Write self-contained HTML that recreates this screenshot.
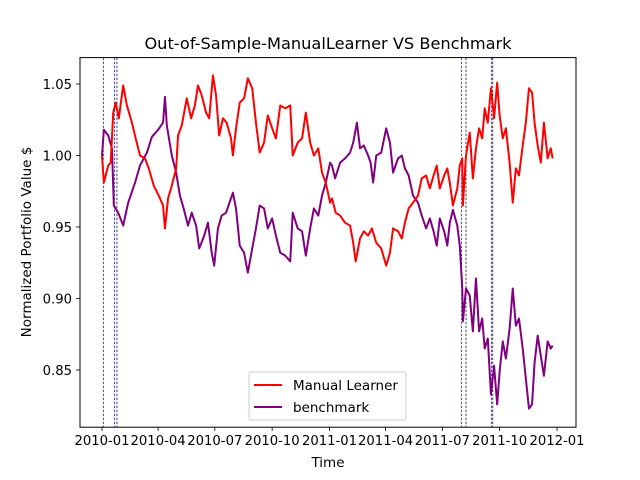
<!DOCTYPE html>
<html><head><meta charset="utf-8"><style>
html,body{margin:0;padding:0;background:#fff;}
svg{display:block;font-family:"DejaVu Sans","Liberation Sans",sans-serif;}
</style></head><body>
<svg id="chart" width="640" height="480" viewBox="0 0 640 480">
<rect x="0" y="0" width="640" height="480" fill="#fff"/>
<text x="328" y="49" font-size="16.2" text-anchor="middle">Out-of-Sample-ManualLearner VS Benchmark</text>
<g id="plot"></g>
<rect x="80" y="57.6" width="496" height="369.6" fill="none" stroke="#000" stroke-width="1"/>
<g id="xaxis"></g>
<g id="yaxis"></g>
<text x="328" y="467" font-size="13.5" text-anchor="middle">Time</text>
<text transform="translate(31,242) rotate(-90)" font-size="13.5" text-anchor="middle">Normalized Portfolio Value $</text>
<g>
<rect x="249" y="372" width="157" height="48" rx="2" fill="#fff" fill-opacity="0.8" stroke="#ccc" stroke-width="1"/>
<line x1="254" y1="385" x2="282" y2="385" stroke="red" stroke-width="2"/>
<text x="293" y="390" font-size="13.5">Manual Learner</text>
<line x1="254" y1="407" x2="282" y2="407" stroke="purple" stroke-width="2"/>
<text x="293" y="412" font-size="13.5">benchmark</text>
</g>
</svg>
<script>
// days since 2010-01-01
const benchDays=[0,3,10,16,19,26,34,42,53,61,72,80,90,98,101,104,112,119,125,131,138,144,151,156,164,170,176,180,186,192,199,210,215,221,228,234,241,247,253,260,266,273,279,286,294,302,306,314,321,327,334,340,347,353,359,366,369,374,382,390,398,403,409,414,420,427,431,435,440,448,456,462,467,475,481,486,492,499,507,513,520,526,532,537,542,549,554,558,563,570,574,578,579,584,590,595,600,605,610,614,619,624,629,634,638,643,648,654,659,664,669,675,680,685,690,694,699,704,709,715,720,723];
const benchVals=[1.0,1.018,1.014,1.005,0.965,0.960,0.951,0.967,0.981,0.993,1.002,1.013,1.018,1.023,1.041,1.021,1.0,0.988,0.972,0.963,0.951,0.960,0.951,0.935,0.944,0.953,0.932,0.923,0.949,0.958,0.960,0.974,0.963,0.937,0.932,0.918,0.935,0.949,0.965,0.963,0.949,0.956,0.944,0.932,0.930,0.926,0.960,0.949,0.947,0.930,0.949,0.963,0.958,0.972,0.981,0.995,0.993,0.984,0.995,0.998,1.002,1.009,1.023,1.005,1.007,1.0,0.995,0.981,1.0,1.002,1.019,1.009,0.988,0.998,1.0,0.991,0.986,0.972,0.967,0.958,0.949,0.956,0.947,0.937,0.956,0.947,0.937,0.953,0.962,0.951,0.937,0.907,0.884,0.907,0.902,0.877,0.914,0.877,0.886,0.865,0.872,0.833,0.853,0.826,0.849,0.870,0.858,0.879,0.907,0.881,0.886,0.865,0.844,0.823,0.826,0.855,0.874,0.860,0.846,0.870,0.865,0.867];
const manualDays=[0,3,10,14,18,22,27,34,40,48,54,61,69,75,83,91,98,101,106,112,119,122,128,136,143,149,154,160,167,172,178,183,188,194,200,207,210,215,221,228,234,241,247,253,260,266,273,279,286,294,302,306,314,321,327,334,340,347,353,359,366,369,375,382,390,398,403,407,414,420,427,433,440,448,456,462,467,475,481,486,492,499,507,513,520,526,532,537,542,549,554,558,563,570,574,578,579,584,590,595,600,605,610,614,619,624,629,634,638,643,648,654,659,664,669,675,680,685,690,694,699,704,709,715,720,723];
const manualVals=[1.0,0.981,0.993,0.995,1.030,1.037,1.026,1.049,1.035,1.023,1.012,1.0,0.998,0.991,0.979,0.972,0.965,0.949,0.970,0.979,0.991,1.014,1.021,1.040,1.026,1.035,1.049,1.042,1.030,1.026,1.056,1.042,1.014,1.026,1.023,1.012,1.0,1.019,1.037,1.040,1.054,1.047,1.023,1.002,1.009,1.028,1.019,1.012,1.035,1.033,1.035,1.0,1.009,1.012,1.030,1.009,1.0,1.005,0.988,0.981,0.967,0.970,0.960,0.958,0.953,0.951,0.939,0.926,0.942,0.947,0.944,0.949,0.939,0.935,0.923,0.932,0.949,0.947,0.942,0.953,0.963,0.967,0.972,0.984,0.986,0.977,0.986,0.993,0.977,0.986,0.991,0.981,0.965,0.977,0.993,0.998,0.965,1.0,1.016,0.984,1.005,1.019,1.012,1.033,1.023,1.047,1.026,1.051,1.028,1.012,1.019,0.995,0.967,0.991,0.986,1.007,1.023,1.047,1.044,1.023,1.007,0.995,1.023,0.998,1.005,0.998];
const tradeDays=[2,20,24,577,584,625,627];
const tradeColors=["black","blue","black","blue","black","blue","black"];
const xTickDays=[0,90,181,273,365,455,546,638,730];
const xTickLabels=["2010-01","2010-04","2010-07","2010-10","2011-01","2011-04","2011-07","2011-10","2012-01"];
const yTicks=[0.85,0.90,0.95,1.00,1.05];
const yTickLabels=["0.85","0.90","0.95","1.00","1.05"];

const NS="http://www.w3.org/2000/svg";
const X=d=>102+d*(455/730);
const Y=v=>84+(1.05-v)/0.05*71.5;
const plot=document.getElementById('plot'),xa=document.getElementById('xaxis'),ya=document.getElementById('yaxis');
function mk(tag,attrs,parent){const e=document.createElementNS(NS,tag);for(const k in attrs)e.setAttribute(k,attrs[k]);parent.appendChild(e);return e;}

tradeDays.forEach((d,i)=>{
  const l=mk('line',{x1:X(d),x2:X(d),y1:57.6,y2:427.2,stroke:tradeColors[i],'stroke-width':0.7,'stroke-dasharray':'2.5,1.5'},plot);
  
  
});
function series(days,vals,color,name){
  const p=mk('polyline',{points:days.map((d,i)=>X(d)+','+Y(vals[i])).join(' '),fill:'none',stroke:color,'stroke-width':2,'stroke-linejoin':'round'},plot);
  
  
}
series(benchDays,benchVals,'purple','benchmark-line');
series(manualDays,manualVals,'red','manual-learner-line');

xTickDays.forEach((d,i)=>{
  const t=mk('line',{x1:X(d),x2:X(d),y1:427.2,y2:431,stroke:'#000','stroke-width':0.8},xa);
  
  
  const s=mk('text',{x:X(d),y:445,'font-size':13.2,'text-anchor':'middle'},xa);
  s.textContent=xTickLabels[i];
  
  
});
yTicks.forEach((v,i)=>{
  const t=mk('line',{x1:76,x2:80,y1:Y(v),y2:Y(v),stroke:'#000','stroke-width':0.8},ya);
  
  
  const s=mk('text',{x:72,y:Y(v)+4.8,'font-size':13.2,'text-anchor':'end'},ya);
  s.textContent=yTickLabels[i];
  
  
});
</script>
</body></html>
